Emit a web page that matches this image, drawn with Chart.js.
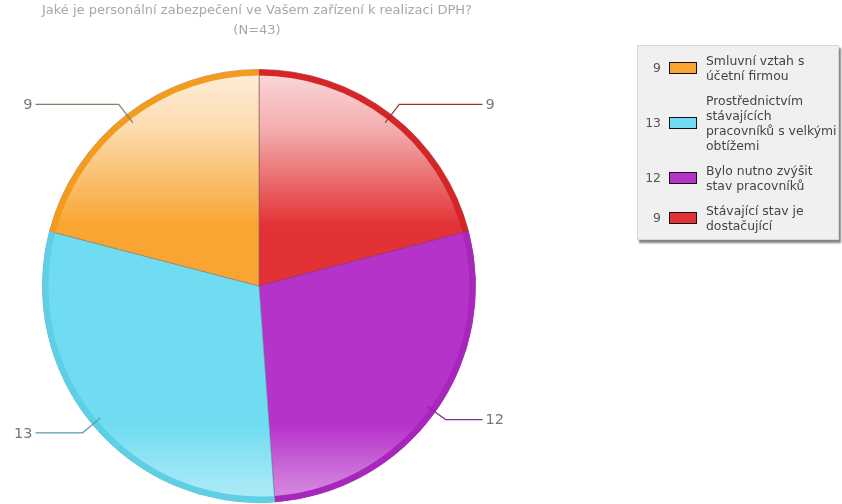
<!DOCTYPE html>
<html lang="cs">
<head>
<meta charset="utf-8">
<title>Personální zabezpečení DPH</title>
<script src="https://cdn.jsdelivr.net/npm/chart.js@4.4.1/dist/chart.umd.min.js"></script>
<style>
  body { margin: 0; background: #fff; }
  #wrap { position: relative; width: 842px; height: 504px; overflow: hidden; }
  #legend {
    position: absolute; left: 637px; top: 45px; width: 202px; height: 195px;
    box-sizing: border-box; padding-top: 7px;
    background: #f0f0f0; border: 1px solid #dadada;
    box-shadow: 2px 3px 2px #808080;
    font: 12.4px "DejaVu Sans", Verdana, sans-serif; color: #444; line-height: 15px;
  }
  .item { position: relative; margin-bottom: 10px; padding-left: 68px; white-space: nowrap; }
  .item .val { position: absolute; left: 0; width: 23px; text-align: right; color: #555; }
  .item .sw { position: absolute; left: 31px; width: 26px; height: 10px; border: 1px solid #111; }
</style>
</head>
<body>
<div id="wrap">
  <canvas id="pie" width="842" height="504"></canvas>
  <div id="legend"></div>
</div>
<script>
const titleLines = ["Jaké je personální zabezpečení ve Vašem zařízení k realizaci DPH?", "(N=43)"];

// slices in clockwise order from 12 o'clock
const categories = [
    ["Stávající stav je", "dostačující"],
    ["Bylo nutno zvýšit", "stav pracovníků"],
    ["Prostřednictvím", "stávajících", "pracovníků s velkými", "obtížemi"],
    ["Smluvní vztah s", "účetní firmou"],
];
const counts = [9, 12, 13, 9];

const baseColors = ["#e23235", "#b633c9", "#70dcf1", "#f8a532"];
const rimColors = ["#d42628", "#a826bb", "#5dd0e6", "#f39b1d"];
const edgeColors = ["#9a3030", "#8a2a9a", "#5a98a8", "#8f7a66"];

// legend lists the slices bottom-up
const legendOrder = [3, 2, 1, 0];

function mix(hex, t) {
    const n = parseInt(hex.slice(1), 16);
    const r = (n >> 16) & 255, g = (n >> 8) & 255, b = n & 255;
    const f = (c) => Math.round(c + (255 - c) * t);
    return "rgb(" + f(r) + "," + f(g) + "," + f(b) + ")";
}

function glossFill(context) {
    const chart = context.chart;
    const area = chart.chartArea;
    const color = baseColors[context.dataIndex];
    if (!area) return color;
    const g = chart.ctx.createLinearGradient(0, area.top, 0, area.bottom);
    g.addColorStop(0, mix(color, 0.82));
    g.addColorStop(0.14, mix(color, 0.6));
    g.addColorStop(0.36, color);
    g.addColorStop(0.82, color);
    g.addColorStop(0.95, mix(color, 0.35));
    g.addColorStop(1, mix(color, 0.45));
    return g;
}

const titlePlugin = {
    id: "titleText",
    afterDraw(chart) {
        const ctx = chart.ctx;
        ctx.save();
        ctx.font = "13px 'DejaVu Sans', Verdana, sans-serif";
        ctx.fillStyle = "#a8a8a8";
        ctx.textAlign = "center";
        ctx.textBaseline = "middle";
        titleLines.forEach((line, i) => ctx.fillText(line, 257, 11 + i * 20));
        ctx.restore();
    },
};

// outer rim band plus leader lines with the counts
const rimPlugin = {
    id: "rimAndLeaders",
    afterDatasetsDraw(chart) {
        const ctx = chart.ctx;
        const meta = chart.getDatasetMeta(0);
        ctx.save();
        meta.data.forEach((arc, i) => {
            const p = arc.getProps(["x", "y", "startAngle", "endAngle", "outerRadius"], true);
            ctx.beginPath();
            ctx.arc(p.x, p.y, p.outerRadius - 3, p.startAngle, p.endAngle);
            ctx.lineWidth = 6;
            ctx.strokeStyle = rimColors[i];
            ctx.stroke();
        });
        meta.data.forEach((arc, i) => {
            const p = arc.getProps(["x", "y", "startAngle", "endAngle", "outerRadius"], true);
            const mid = (p.startAngle + p.endAngle) / 2;
            const cos = Math.cos(mid), sin = Math.sin(mid);
            const right = cos >= 0;
            const x0 = p.x + cos * (p.outerRadius - 10), y0 = p.y + sin * (p.outerRadius - 10);
            const x1 = p.x + cos * (p.outerRadius + 13), y1 = p.y + sin * (p.outerRadius + 13);
            const x2 = p.x + (right ? 1 : -1) * (p.outerRadius + 7);
            ctx.beginPath();
            ctx.moveTo(x0, y0);
            ctx.lineTo(x1, y1);
            ctx.lineTo(x2, y1);
            ctx.lineWidth = 1.2;
            ctx.strokeStyle = edgeColors[i];
            ctx.stroke();
            ctx.font = "14.5px 'DejaVu Sans', Verdana, sans-serif";
            ctx.fillStyle = "#777";
            ctx.textBaseline = "middle";
            ctx.textAlign = right ? "left" : "right";
            ctx.fillText(String(counts[i]), x2 + (right ? 3 : -3), y1 + 1);
        });
        ctx.restore();
    },
};

new Chart(document.getElementById("pie"), {
    type: "pie",
    data: {
        labels: categories,
        datasets: [{
            data: counts,
            backgroundColor: glossFill,
            borderColor: edgeColors.map((c) => c + "aa"),
            borderWidth: 1,
        }],
    },
    options: {
        responsive: false,
        animation: false,
        layout: { padding: { left: 41, right: 365, top: 69, bottom: 1 } },
        plugins: {
            legend: { display: false },
            tooltip: { enabled: false },
        },
    },
    plugins: [rimPlugin, titlePlugin],
});

const legend = document.getElementById("legend");
legendOrder.forEach((i) => {
    const item = document.createElement("div");
    item.className = "item";
    const val = document.createElement("span");
    val.className = "val";
    val.textContent = counts[i];
    const sw = document.createElement("span");
    sw.className = "sw";
    sw.style.background = baseColors[i];
    item.appendChild(val);
    item.appendChild(sw);
    item.insertAdjacentHTML("beforeend", categories[i].join("<br>"));
    const mid = (categories[i].length * 15) / 2;
    val.style.top = (mid - 8) + "px";
    sw.style.top = (mid - 6) + "px";
    legend.appendChild(item);
});
</script>
</body>
</html>
